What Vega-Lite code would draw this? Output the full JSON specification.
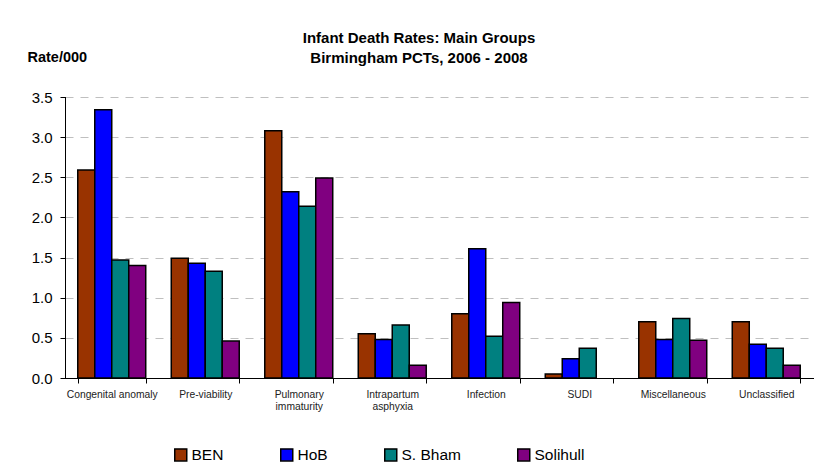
{
  "$schema": "https://vega.github.io/schema/vega-lite/v6.json",
  "width": 748,
  "height": 281,
  "autosize": {"type": "none"},
  "padding": {"left": 65, "top": 97, "right": 6, "bottom": 92},
  "background": "white",
  "title": {
    "text": ["Infant Death Rates: Main Groups", "Birmingham PCTs, 2006 - 2008"],
    "anchor": "middle",
    "font": "Liberation Sans",
    "fontSize": 15,
    "fontWeight": "bold",
    "color": "black",
    "lineHeight": 20,
    "dx": -20,
    "dy": 37,
    "offset": 20
  },
  "data": {
    "values": [
      {"category": "Congenital anomaly", "group": "BEN", "rate": 2.59},
      {"category": "Congenital anomaly", "group": "HoB", "rate": 3.34},
      {"category": "Congenital anomaly", "group": "S. Bham", "rate": 1.47},
      {"category": "Congenital anomaly", "group": "Solihull", "rate": 1.40},
      {"category": "Pre-viability", "group": "BEN", "rate": 1.49},
      {"category": "Pre-viability", "group": "HoB", "rate": 1.43},
      {"category": "Pre-viability", "group": "S. Bham", "rate": 1.33},
      {"category": "Pre-viability", "group": "Solihull", "rate": 0.46},
      {"category": "Pulmonary immaturity", "group": "BEN", "rate": 3.08},
      {"category": "Pulmonary immaturity", "group": "HoB", "rate": 2.32},
      {"category": "Pulmonary immaturity", "group": "S. Bham", "rate": 2.14},
      {"category": "Pulmonary immaturity", "group": "Solihull", "rate": 2.49},
      {"category": "Intrapartum asphyxia", "group": "BEN", "rate": 0.55},
      {"category": "Intrapartum asphyxia", "group": "HoB", "rate": 0.48},
      {"category": "Intrapartum asphyxia", "group": "S. Bham", "rate": 0.66},
      {"category": "Intrapartum asphyxia", "group": "Solihull", "rate": 0.16},
      {"category": "Infection", "group": "BEN", "rate": 0.80},
      {"category": "Infection", "group": "HoB", "rate": 1.61},
      {"category": "Infection", "group": "S. Bham", "rate": 0.52},
      {"category": "Infection", "group": "Solihull", "rate": 0.94},
      {"category": "SUDI", "group": "BEN", "rate": 0.05},
      {"category": "SUDI", "group": "HoB", "rate": 0.24},
      {"category": "SUDI", "group": "S. Bham", "rate": 0.37},
      {"category": "SUDI", "group": "Solihull", "rate": 0},
      {"category": "Miscellaneous", "group": "BEN", "rate": 0.70},
      {"category": "Miscellaneous", "group": "HoB", "rate": 0.48},
      {"category": "Miscellaneous", "group": "S. Bham", "rate": 0.74},
      {"category": "Miscellaneous", "group": "Solihull", "rate": 0.47},
      {"category": "Unclassified", "group": "BEN", "rate": 0.70},
      {"category": "Unclassified", "group": "HoB", "rate": 0.42},
      {"category": "Unclassified", "group": "S. Bham", "rate": 0.37},
      {"category": "Unclassified", "group": "Solihull", "rate": 0.16}
    ]
  },
  "mark": {"type": "bar", "stroke": "black", "strokeWidth": 1.5},
  "encoding": {
    "x": {
      "field": "category",
      "type": "nominal",
      "sort": null,
      "scale": {"paddingInner": 0.273, "paddingOuter": 0.1365},
      "axis": {
        "title": null,
        "labelAngle": 0,
        "labelFont": "Liberation Sans",
        "labelFontSize": 10.3,
        "labelColor": "#222222",
        "labelLineHeight": 12.7,
        "labelPadding": 6,
        "labelExpr": "datum.label == 'Pulmonary immaturity' ? ['Pulmonary', 'immaturity'] : datum.label == 'Intrapartum asphyxia' ? ['Intrapartum', 'asphyxia'] : datum.label",
        "domainColor": "black",
        "domainWidth": 1,
        "tickColor": "black",
        "tickSize": 5,
        "tickBand": "extent",
        "grid": false
      }
    },
    "xOffset": {
      "field": "group",
      "type": "nominal",
      "scale": {"paddingInner": 0, "paddingOuter": 0}
    },
    "y": {
      "field": "rate",
      "type": "quantitative",
      "scale": {"domain": [0, 3.5], "nice": false},
      "axis": {
        "values": [0, 0.5, 1, 1.5, 2, 2.5, 3, 3.5],
        "format": ".1f",
        "title": "Rate/000",
        "titleAngle": 0,
        "titleAlign": "left",
        "titleBaseline": "alphabetic",
        "titleX": -38,
        "titleY": -36,
        "titleFont": "Liberation Sans",
        "titleFontSize": 14.5,
        "titleFontWeight": "bold",
        "titleColor": "black",
        "labelFont": "Liberation Sans",
        "labelFontSize": 15,
        "labelColor": "black",
        "labelPadding": 8,
        "domainColor": "black",
        "tickColor": "black",
        "tickSize": 5,
        "grid": true,
        "gridColor": "#bfbfbf",
        "gridDash": [8, 7],
        "gridWidth": 1
      }
    },
    "strokeWidth": {
      "condition": {"test": "datum.rate == 0", "value": 0},
      "value": 1.5
    },
    "color": {
      "field": "group",
      "type": "nominal",
      "scale": {
        "domain": ["BEN", "HoB", "S. Bham", "Solihull"],
        "range": ["#993300", "#0000ff", "#008080", "#800080"]
      },
      "legend": {
        "title": null,
        "orient": "none",
        "direction": "horizontal",
        "legendX": 108,
        "legendY": 350,
        "padding": 0,
        "symbolType": "square",
        "symbolSize": 144,
        "symbolStrokeColor": "black",
        "symbolStrokeWidth": 1.5,
        "symbolOpacity": 1,
        "labelFont": "Liberation Sans",
        "labelFontSize": 15.5,
        "labelColor": "black",
        "labelOffset": 3,
        "columnPadding": 53
      }
    }
  },
  "config": {
    "view": {"stroke": null},
    "axis": {"domainCap": "square"}
  }
}
